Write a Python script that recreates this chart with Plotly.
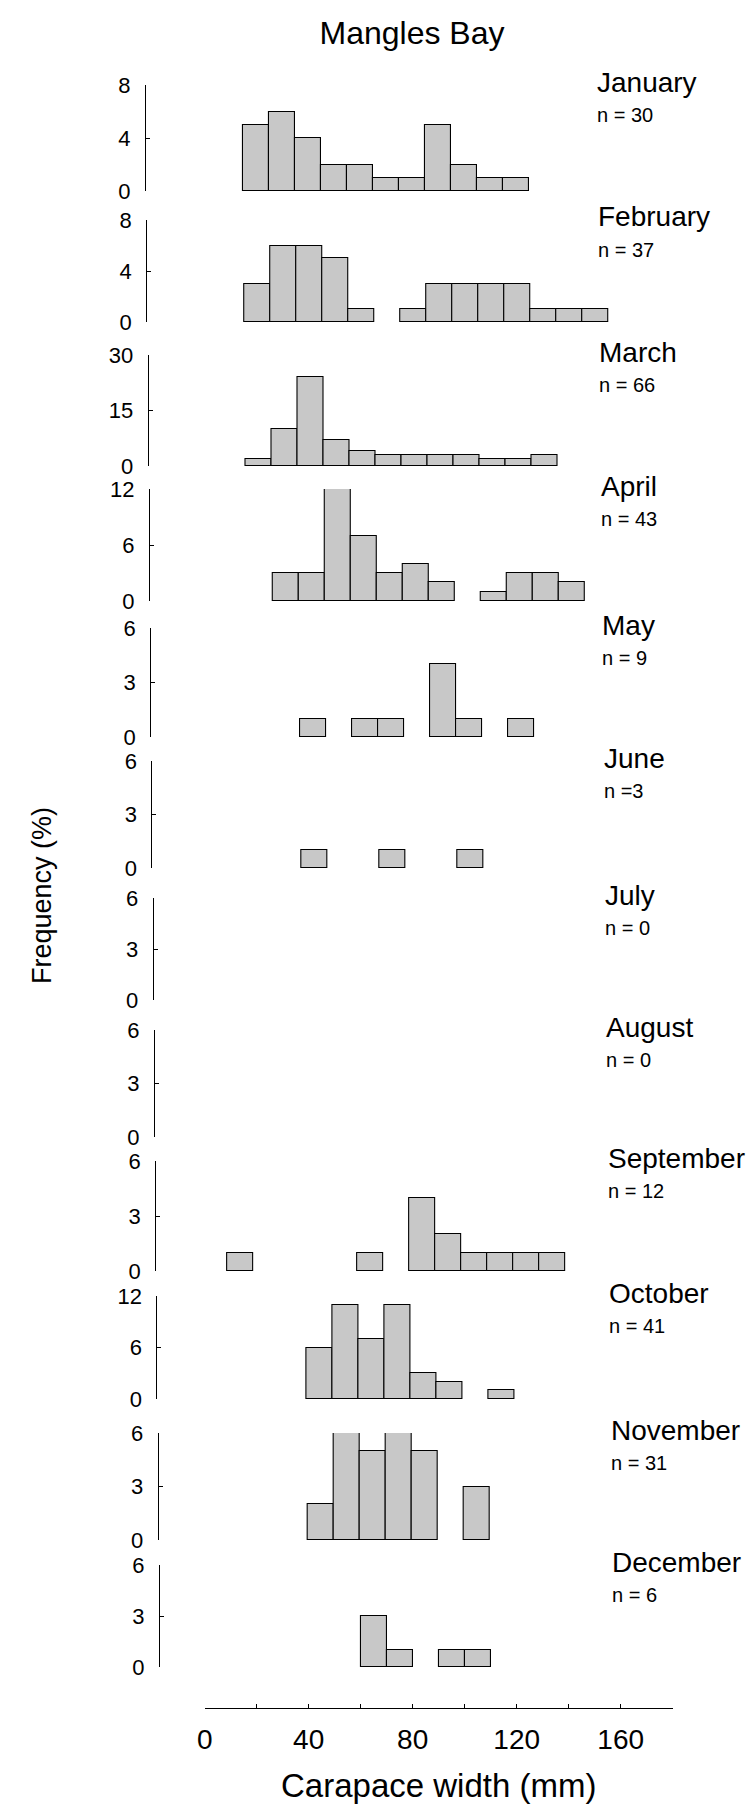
import plotly.graph_objects as go

# Carapace width bins (left edge, mm); each bin is 10 mm wide
bins = [10, 20, 30, 40, 50, 60, 70, 80, 90, 100, 110, 120, 130, 140, 150]

months = ["January", "February", "March", "April", "May", "June",
          "July", "August", "September", "October", "November", "December"]
n_labels = ["n = 30", "n = 37", "n = 66", "n = 43", "n = 9", "n =3",
            "n = 0", "n = 0", "n = 12", "n = 41", "n = 31", "n = 6"]

# counts per bin, same order as `bins`
jan = [0, 5, 6, 4, 2, 2, 1, 1, 5, 2, 1, 1, 0, 0, 0]
feb = [0, 3, 6, 6, 5, 1, 0, 1, 3, 3, 3, 3, 1, 1, 1]
mar = [0, 2, 10, 24, 7, 4, 3, 3, 3, 3, 2, 2, 3, 0, 0]
apr = [0, 0, 3, 3, 12, 7, 3, 4, 2, 0, 1, 3, 3, 2, 0]
may = [0, 0, 0, 1, 0, 1, 1, 0, 4, 1, 0, 1, 0, 0, 0]
jun = [0, 0, 0, 1, 0, 0, 1, 0, 0, 1, 0, 0, 0, 0, 0]
jul = [0] * 15
aug = [0] * 15
sep = [1, 0, 0, 0, 0, 1, 0, 4, 2, 1, 1, 1, 1, 0, 0]
oct_ = [0, 0, 0, 6, 11, 7, 11, 3, 2, 0, 1, 0, 0, 0, 0]
nov = [0, 0, 0, 2, 8, 5, 8, 5, 0, 3, 0, 0, 0, 0, 0]
dec = [0, 0, 0, 0, 0, 3, 1, 0, 1, 1, 0, 0, 0, 0, 0]
counts = [jan, feb, mar, apr, may, jun, jul, aug, sep, oct_, nov, dec]

y_max = [8, 8, 30, 12, 6, 6, 6, 6, 6, 12, 6, 6]

W, H = 756, 1818
FONT = "Liberation Sans, Arial, sans-serif"

# panel placement (pixels from top): top of each y axis and its zero line
panel_top = [77, 212, 347, 481, 620, 753, 890, 1022, 1153, 1288, 1425, 1557]
panel_base = [183, 314, 458, 593, 729, 860, 992, 1129, 1263, 1391, 1532, 1659]

PX_PER_MM = 2.6
X_MIN, X_MAX = -17.2, 180
Y_AXIS_BOTTOM = 152   # x pixel of the lowest panel's y axis
AXIS_SKEW = 14        # scanned page is tilted: upper panels sit further left
LABEL_X_BOTTOM = 602
LABEL_SKEW = 15.5


def fx(px):
    return px / W


def fy(px):
    return 1 - px / H


fig = go.Figure()
layout = {}
annotations = []

for k, month in enumerate(months):
    top, base = panel_top[k], panel_base[k]
    x0 = Y_AXIS_BOTTOM - AXIS_SKEW * (11 - k) / 11
    x1 = x0 + (X_MAX - X_MIN) * PX_PER_MM
    xs = [b + 5 for b, c in zip(bins, counts[k]) if c]
    ys = [c for c in counts[k] if c]
    fig.add_trace(go.Bar(
        x=xs, y=ys, width=10,
        marker=dict(color="#c8c8c8", line=dict(color="black", width=1.1)),
        xaxis=f"x{k + 1}", yaxis=f"y{k + 1}", showlegend=False,
    ))
    layout[f"xaxis{k + 1}"] = dict(domain=[fx(x0), fx(x1)], range=[X_MIN, X_MAX],
                                   visible=False, anchor=f"y{k + 1}")
    m = y_max[k]
    layout[f"yaxis{k + 1}"] = dict(
        domain=[fy(base), fy(top)], range=[0, m], anchor=f"x{k + 1}",
        tickvals=[0, m / 2, m], ticktext=[str(v) for v in (0, m // 2, m)],
        ticks="inside", ticklen=4, tickcolor="black", showline=True,
        linecolor="black", linewidth=1, showgrid=False, zeroline=False,
        tickfont=dict(size=22, color="black"), ticklabelstandoff=10,
    )
    lx = LABEL_X_BOTTOM - LABEL_SKEW * (11 - k) / 11
    annotations.append(dict(text=month, x=fx(lx), y=fy(top - 3), xref="paper",
                            yref="paper", xanchor="left", yanchor="middle",
                            showarrow=False, font=dict(size=28, color="black")))
    annotations.append(dict(text=n_labels[k], x=fx(lx), y=fy(top + 30),
                            xref="paper", yref="paper", xanchor="left",
                            yanchor="middle", showarrow=False,
                            font=dict(size=20, color="black")))

# bottom carapace-width axis
X0_BOTTOM = 196.7
fig.add_trace(go.Scatter(x=[], y=[], xaxis="x13", yaxis="y13", showlegend=False))
layout["xaxis13"] = dict(
    domain=[fx(X0_BOTTOM), fx(X0_BOTTOM + 180 * PX_PER_MM)], range=[0, 180],
    anchor="y13", tick0=0, dtick=40, ticks="inside", ticklen=4, tickcolor="black",
    minor=dict(dtick=20, tick0=0, ticks="inside", ticklen=4, tickcolor="black"),
    showline=True, linecolor="black", linewidth=1, showgrid=False,
    zeroline=False, tickfont=dict(size=28, color="black"), ticklabelstandoff=6,
)
layout["yaxis13"] = dict(domain=[fy(1700), fy(1690)], visible=False, anchor="x13")

annotations.append(dict(text="Frequency (%)", x=fx(17), y=fy(888), xref="paper",
                        yref="paper", textangle=-90, showarrow=False,
                        font=dict(size=27, color="black")))
annotations.append(dict(text="Carapace width (mm)", x=fx(430), y=fy(1798),
                        xref="paper", yref="paper", showarrow=False,
                        font=dict(size=33, color="black")))

fig.update_layout(
    **layout,
    annotations=annotations,
    title=dict(text="Mangles Bay", x=fx(404), xanchor="center", y=fy(25),
               yanchor="middle", font=dict(size=32, color="black")),
    width=W, height=H, margin=dict(l=0, r=0, t=0, b=0),
    bargap=0, template="none", font=dict(family=FONT, color="black"),
    paper_bgcolor="white", plot_bgcolor="rgba(0,0,0,0)",
)
fig.write_html("out.html")
